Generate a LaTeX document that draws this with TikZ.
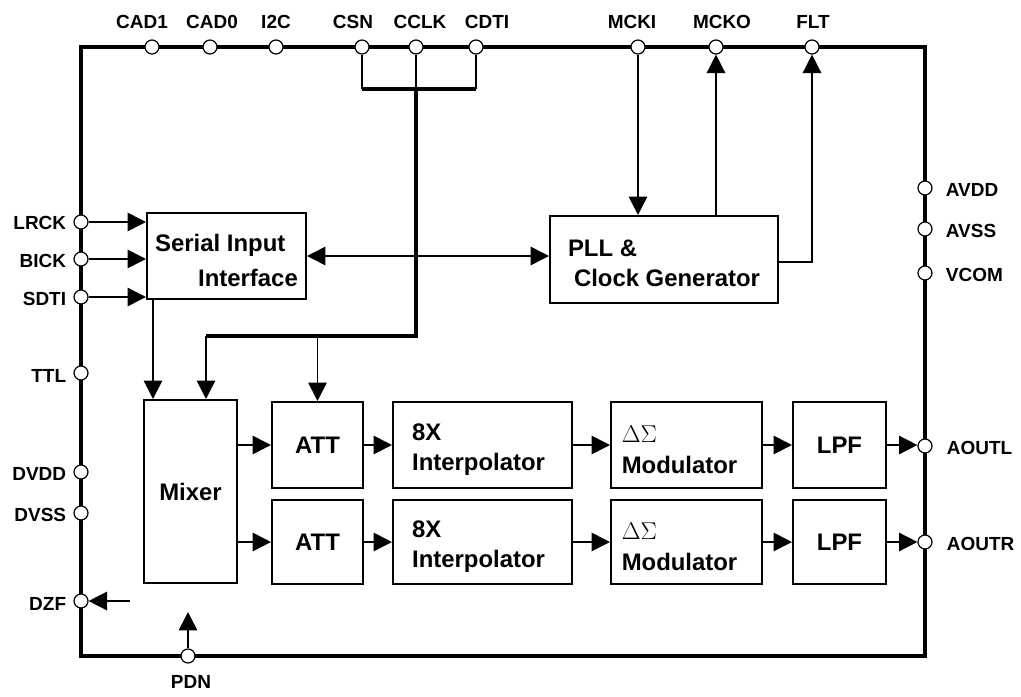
\documentclass[tikz,border=0pt]{standalone}
\usepackage{fontspec}
\setmainfont{Liberation Sans}
\usepackage{tikz}
\usetikzlibrary{arrows.meta,positioning}
\newcommand{\lowr}{\rule{0pt}{6.5mm}}

\begin{document}
\begin{tikzpicture}[x=0.25mm, y=-0.25mm,
  node distance=1.75mm,
  box/.style={draw, line width=0.5mm, align=center, inner sep=0pt,
              font=\fontsize{17}{21.5}\selectfont\bfseries},
  pinc/.style={circle, draw, fill=white, line width=0.3mm,
               minimum size=3.5mm, inner sep=0pt},
  lbl/.style={inner sep=0pt, font=\fontsize{13.5}{16}\selectfont\bfseries},
  wire/.style={line width=0.4mm},
  arr/.style={wire, -{Triangle[length=4.6mm, width=4.6mm]}},
  darr/.style={wire, {Triangle[length=4.6mm, width=4.6mm]}-{Triangle[length=4.6mm, width=4.6mm]}},
  bus/.style={line width=1mm}]
\useasboundingbox (0,0) rectangle (1021,696);

% chip outline
\draw[line width=1mm] (81,47) rectangle (925,656);

% blocks
\node[box, minimum width=39.75mm, minimum height=21.5mm, align=left] (ser) at (226.5,256)
  {\lowr Serial Input\\[1.25mm]\hspace*{10.75mm}Interface};
\node[box, minimum width=57mm, minimum height=21.75mm, align=left] (pll) at (664,259.5)
  {\rule{0pt}{6mm}PLL \&\\\hspace*{1.5mm}Clock Generator};
\node[box, minimum width=23.25mm, minimum height=45.75mm] (mix) at (190.5,491.5) {Mixer};
\node[box, minimum width=22.75mm, minimum height=21.5mm] (att1) at (317.5,445) {ATT};
\node[box, minimum width=22.75mm, minimum height=21mm] (att2) at (317.5,542) {ATT};
\node[box, minimum width=44.75mm, minimum height=21.5mm, align=left] (int1) at (482.5,445)
  {\lowr 8X\\Interpolator\hspace*{2mm}};
\node[box, minimum width=44.75mm, minimum height=21mm, align=left] (int2) at (482.5,542)
  {\lowr 8X\\Interpolator\hspace*{2mm}};
\node[box, minimum width=37.75mm, minimum height=21.5mm, align=left] (mod1) at (686.5,445)
  {\lowr$\Delta\Sigma$\\Modulator\hspace*{3.5mm}};
\node[box, minimum width=37.75mm, minimum height=21mm, align=left] (mod2) at (686.5,542)
  {\lowr$\Delta\Sigma$\\Modulator\hspace*{3.5mm}};
\node[box, minimum width=23.25mm, minimum height=21.5mm] (lpf1) at (839.5,445) {LPF};
\node[box, minimum width=23.25mm, minimum height=21mm] (lpf2) at (839.5,542) {LPF};

% pins, top
\node[pinc] (cad1) at (152,47) {};
\node[pinc] (cad0) at (210,47) {};
\node[pinc] (i2c) at (276,47) {};
\node[pinc] (csn) at (362,47) {};
\node[pinc] (cclk) at (416,47) {};
\node[pinc] (cdti) at (476,47) {};
\node[pinc] (mcki) at (638,47) {};
\node[pinc] (mcko) at (716,47) {};
\node[pinc] (flt) at (812,47) {};
\node[lbl] (lcad1) at (142,22) {CAD1};
\node[lbl] (lcad0) at (212,22) {CAD0};
\node[lbl] (li2c) at (276,22) {I2C};
\node[lbl] (lcsn) at (353,22) {CSN};
\node[lbl] (lcclk) at (420,22) {CCLK};
\node[lbl] (lcdti) at (487,22) {CDTI};
\node[lbl] (lmcki) at (632,22) {MCKI};
\node[lbl] (lmcko) at (722,22) {MCKO};
\node[lbl] (lflt) at (813,22) {FLT};

% pins, left
\node[pinc] (lrck) at (81,222) {};
\node[pinc] (bick) at (81,259) {};
\node[pinc] (sdti) at (81,297) {};
\node[pinc] (ttl) at (81,373) {};
\node[pinc] (dvdd) at (81,472) {};
\node[pinc] (dvss) at (81,513) {};
\node[pinc] (dzf) at (81,601) {};
\node[lbl, left=of lrck, yshift=-0.3mm] (llrck) {LRCK};
\node[lbl, left=of bick, yshift=-0.6mm] (lbick) {BICK};
\node[lbl, left=of sdti, yshift=-0.6mm] (lsdti) {SDTI};
\node[lbl, left=of ttl, yshift=-0.8mm] (lttl) {TTL};
\node[lbl, left=of dvdd, yshift=-0.6mm] (ldvdd) {DVDD};
\node[lbl, left=of dvss, yshift=-0.6mm] (ldvss) {DVSS};
\node[lbl, left=of dzf, yshift=-0.8mm] (ldzf) {DZF};

% pins, right and bottom
\node[pinc] (avdd) at (925,188) {};
\node[pinc] (avss) at (925,229) {};
\node[pinc] (vcom) at (925,273) {};
\node[pinc] (aoutl) at (925,446) {};
\node[pinc] (aoutr) at (925,542) {};
\node[pinc] (pdn) at (188,656) {};
\node[lbl, right=3.25mm of avdd, yshift=-0.6mm] (lavdd) {AVDD};
\node[lbl, right=3.25mm of avss, yshift=-0.6mm] (lavss) {AVSS};
\node[lbl, right=3.25mm of vcom, yshift=-0.6mm] (lvcom) {VCOM};
\node[lbl, right=3.5mm of aoutl, yshift=-0.6mm] (laoutl) {AOUTL};
\node[lbl, right=3.5mm of aoutr, yshift=-0.6mm] (laoutr) {AOUTR};
\node[lbl, below=3mm of pdn, xshift=0.75mm] (lpdn) {PDN};

% control bus
\coordinate (busw) at (362,89);
\coordinate (ctrl) at (416,336);
\coordinate (ctrlw) at (206,336);
\draw[wire] (csn.south) -- (csn |- busw);
\draw[wire] (cdti.south) -- (cdti |- busw);
\draw[wire] (cclk.south) -- (cclk |- busw);
\draw[bus] (csn |- busw) -- (cdti |- busw);
\draw[bus] (cclk |- busw) -- (ctrl) -- (ctrlw);
\draw[arr] (ctrlw) -- (ctrlw |- mix.north);
\draw[arr] (att1.north |- ctrlw) -- (att1.north);

% audio interface and clock
\draw[arr] (lrck.east) -- (lrck.east -| ser.west);
\draw[arr] (bick.east) -- (bick.east -| ser.west);
\draw[arr] (sdti.east) -- (sdti.east -| ser.west);
\draw[darr] (ser.east) -- (ser.east -| pll.west);
\draw[arr] (mcki.south) -- (mcki.south |- pll.north);
\draw[arr] (mcko.south |- pll.north) -- (mcko.south);
\draw[arr] ([yshift=-0.6mm]pll.east) -| (flt.south);
\coordinate (serout) at ([xshift=1.75mm]ser.south west);
\draw[arr] (serout) -- (serout |- mix.north);

% data path
\draw[arr] (att1.west -| mix.east) -- (att1.west);
\draw[arr] (att2.west -| mix.east) -- (att2.west);
\draw[arr] (att1) -- (int1);
\draw[arr] (att2) -- (int2);
\draw[arr] (int1) -- (mod1);
\draw[arr] (int2) -- (mod2);
\draw[arr] (mod1) -- (lpf1);
\draw[arr] (mod2) -- (lpf2);
\draw[arr] (lpf1.east) -- (lpf1.east -| aoutl.west);
\draw[arr] (lpf2.east) -- (aoutr.west);

% dzf, pdn
\coordinate (dzfin) at (130,601);
\coordinate (pdnout) at (188,612);
\draw[arr] (dzfin) -- (dzf.east);
\draw[arr] (pdn.north) -- (pdnout);
\end{tikzpicture}
\end{document}
